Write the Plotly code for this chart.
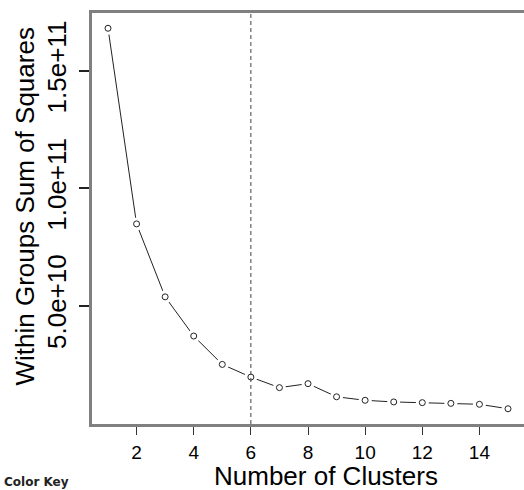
import plotly.graph_objects as go

clusters = list(range(1, 16))
wss = [1.682e11, 8.48e10, 5.37e10, 3.70e10, 2.49e10, 1.95e10, 1.50e10, 1.67e10,
       1.11e10, 9.6e9, 8.9e9, 8.6e9, 8.3e9, 7.9e9, 6.0e9]
x_ticks = [2, 4, 6, 8, 10, 12, 14]
y_ticks = [5.0e10, 1.0e11, 1.5e11]
y_tick_labels = ["5.0e+10", "1.0e+11", "1.5e+11"]
chosen_k = 6

fig = go.Figure()
fig.add_trace(go.Scatter(x=clusters, y=wss, mode="lines",
                         line=dict(color="#222222", width=1), hoverinfo="skip"))
fig.add_trace(go.Scatter(x=clusters, y=wss, mode="markers",
                         marker=dict(symbol="circle", size=13, color="white",
                                     line=dict(width=0)), hoverinfo="skip"))
fig.add_trace(go.Scatter(x=clusters, y=wss, mode="markers",
                         marker=dict(symbol="circle-open", size=6, color="#222222",
                                     line=dict(width=1))))

fig.add_shape(type="line", xref="x", yref="paper", x0=chosen_k, x1=chosen_k,
              y0=0, y1=1, line=dict(color="#444444", width=1, dash="4px,3px"))

font = "Liberation Sans, Arial, sans-serif"
fig.update_layout(
    width=524, height=490,
    margin=dict(l=92, r=0, t=13, b=66),
    paper_bgcolor="white", plot_bgcolor="white",
    showlegend=False,
    font=dict(family=font, color="black"),
    xaxis=dict(range=[0.44, 15.56], tickvals=x_ticks, ticks="outside", ticklen=8,
               tickwidth=1, tickcolor="#333333", showline=True, linecolor="#808080",
               linewidth=3, mirror=True, showgrid=False, zeroline=False,
               tickfont=dict(size=19, family=font), ticklabelstandoff=1),
    yaxis=dict(range=[-0.5e9, 1.747e11], tickvals=y_ticks, ticktext=y_tick_labels,
               tickangle=-90, ticks="outside", ticklen=10, tickwidth=1.5,
               tickcolor="#222222", showline=True, linecolor="#808080", linewidth=3,
               showgrid=False, zeroline=False,
               tickfont=dict(size=26, family=font), ticklabelstandoff=3),
)

fig.add_annotation(text="Number of Clusters", xref="paper", yref="paper",
                   x=(326 - 92) / 432, y=-(476 - 424) / 411, showarrow=False,
                   font=dict(size=26, family=font, color="black"),
                   xanchor="center", yanchor="middle", borderpad=0)
fig.add_annotation(text="Within Groups Sum of Squares", xref="paper", yref="paper",
                   x=-(92 - 24) / 432, y=(424 - 206.5) / 411, showarrow=False,
                   textangle=-90,
                   font=dict(size=26, family=font, color="black"),
                   xanchor="center", yanchor="middle")
fig.add_annotation(text="<b>Color Key</b>", xref="paper", yref="paper",
                   x=-(92 - 2) / 432, y=-(482 - 424) / 411, showarrow=False,
                   font=dict(size=12, family="DejaVu Sans, Verdana, sans-serif", color="#222222"),
                   xanchor="left", yanchor="middle")

fig.write_html("out.html", config={"displayModeBar": False},
               post_script="document.body.style.margin='0';document.body.style.overflow='hidden';")
